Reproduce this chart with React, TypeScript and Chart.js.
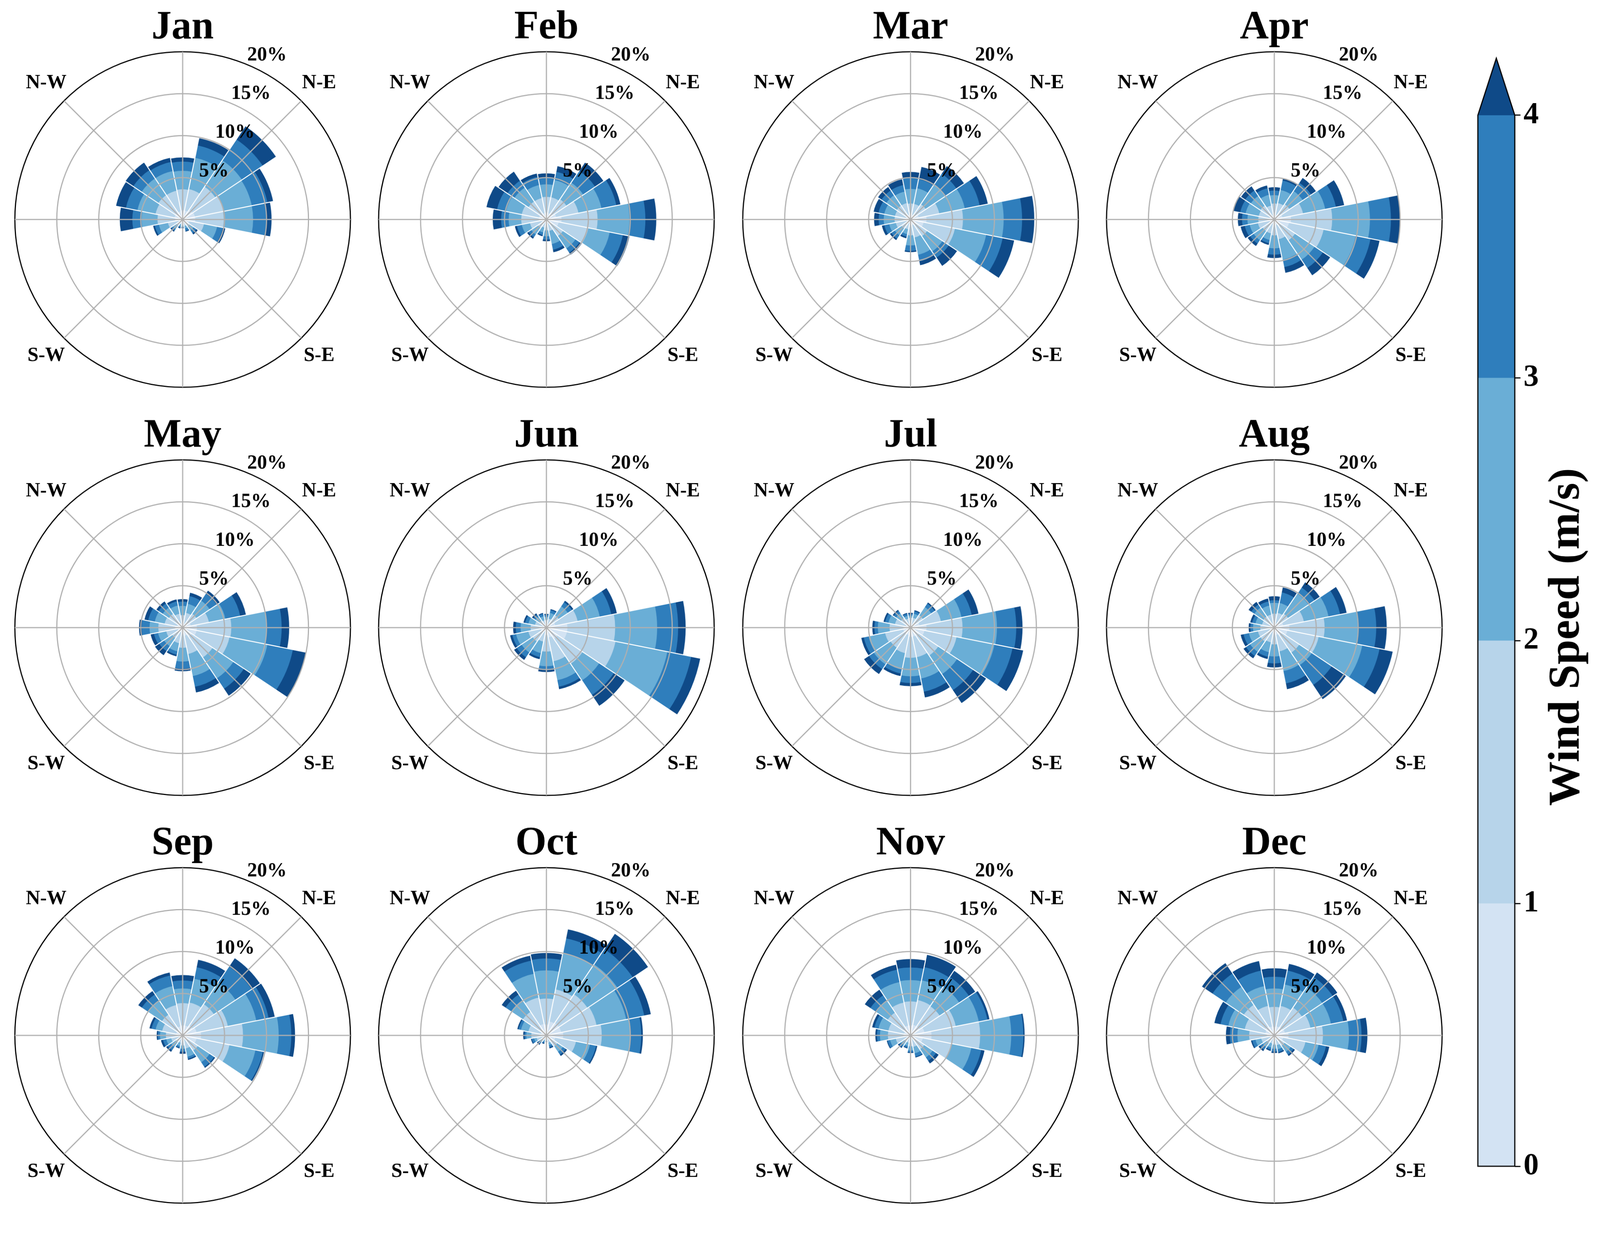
import React, { useEffect, useRef } from 'react';
import { Chart, registerables } from 'chart.js';

Chart.register(...registerables);

// ---------------- data ----------------
const DIRECTIONS = ['N', 'NNE', 'NE', 'ENE', 'E', 'ESE', 'SE', 'SSE', 'S', 'SSW', 'SW', 'WSW', 'W', 'WNW', 'NW', 'NNW'];
const SPEED_BINS = ['0-1', '1-2', '2-3', '3-4', '>4'];
const MONTHS = ['Jan', 'Feb', 'Mar', 'Apr', 'May', 'Jun', 'Jul', 'Aug', 'Sep', 'Oct', 'Nov', 'Dec'];
const R_TICKS = [5, 10, 15, 20];
const DIAG_LABELS = ['', 'N-E', '', 'S-E', '', 'S-W', '', 'N-W'];
const CB_BOUNDS = [0, 1, 2, 3, 4];
const CB_TICKS = [0, 1, 2, 3, 4];
const CB_LABEL = 'Wind Speed (m/s)';

// frequency (%) per direction (rows, N clockwise) and speed bin (columns: 0-1, 1-2, 2-3, 3-4, >4 m/s)
const JAN = [
  [1.1, 2.5, 2.2, 1.1, 0.5], [1.1, 2.6, 3.8, 1.5, 0.9], [1.4, 3.3, 3.8, 3.0, 1.9], [1.5, 3.5, 3.4, 1.9, 0.7],
  [1.5, 3.4, 3.5, 1.6, 0.6], [0.8, 1.8, 1.6, 0.7, 0.3], [0.3, 0.7, 0.6, 0.4, 0.2], [0.3, 0.5, 0.3, 0.3, 0.1],
  [0.2, 0.4, 0.2, 0.15, 0.1], [0.2, 0.4, 0.25, 0.15, 0.1], [0.3, 0.6, 0.5, 0.25, 0.15], [0.5, 1.3, 1.1, 0.5, 0.2],
  [0.9, 2.1, 1.9, 1.1, 1.5], [1.0, 2.3, 2.2, 1.4, 1.2], [1.0, 2.5, 2.4, 1.2, 1.1], [1.0, 2.5, 2.4, 1.1, 0.5],
];
const FEB = [
  [0.8, 1.9, 1.5, 0.8, 0.5], [0.8, 1.9, 2.1, 1.0, 0.7], [0.9, 2.0, 2.4, 1.7, 1.2], [1.2, 2.7, 2.8, 1.8, 0.5],
  [1.8, 4.3, 3.8, 1.9, 1.3], [1.5, 3.6, 2.6, 1.6, 0.8], [0.7, 1.7, 1.8, 0.6, 0.3], [0.4, 1.0, 1.6, 0.7, 0.3],
  [0.4, 0.9, 0.7, 0.4, 0.2], [0.3, 0.7, 0.6, 0.3, 0.15], [0.4, 0.8, 1.0, 0.4, 0.2], [0.6, 1.4, 1.0, 0.6, 0.25],
  [0.9, 2.1, 1.5, 0.9, 1.0], [0.9, 2.1, 1.9, 1.1, 1.3], [0.8, 1.8, 2.0, 1.0, 1.3], [0.8, 1.8, 1.6, 1.0, 0.4],
];
const MAR = [
  [0.6, 1.3, 1.75, 1.35, 0.67], [0.6, 1.3, 1.9, 1.1, 1.5], [0.7, 1.5, 2.8, 1.6, 1.1], [1.0, 2.5, 3.1, 1.8, 1.0],
  [1.9, 4.35, 4.85, 2.2, 1.45], [1.6, 3.8, 3.8, 2.0, 1.4], [0.7, 1.7, 2.2, 0.9, 1.2], [0.7, 1.5, 2.1, 0.8, 0.47],
  [0.6, 1.3, 1.2, 0.65, 0.15], [0.4, 0.8, 0.6, 0.3, 0.2], [0.4, 0.9, 1.0, 0.5, 0.2], [0.5, 1.3, 0.8, 0.6, 0.3],
  [0.6, 1.3, 1.3, 0.6, 0.55], [0.6, 1.3, 1.3, 0.7, 0.6], [0.6, 1.4, 1.5, 0.7, 0.5], [0.6, 1.4, 1.4, 0.8, 0.7],
];
const APR = [
  [0.6, 1.3, 1.0, 0.55, 0.4], [0.6, 1.4, 1.6, 1.15, 0.25], [0.7, 1.5, 1.9, 1.2, 0.7], [1.0, 2.5, 2.7, 1.3, 1.0],
  [2.0, 4.9, 4.5, 2.5, 1.1], [1.8, 4.2, 3.9, 1.8, 1.1], [0.9, 2.1, 2.8, 1.2, 1.05], [0.7, 1.7, 2.5, 0.9, 0.7],
  [0.6, 1.3, 1.55, 0.75, 0.4], [0.5, 1.2, 0.8, 0.4, 0.2], [0.5, 1.2, 1.3, 0.5, 0.35], [0.6, 1.4, 1.0, 0.6, 0.5],
  [0.6, 1.3, 1.3, 0.65, 0.5], [0.6, 1.3, 1.6, 0.65, 0.9], [0.6, 1.4, 1.4, 0.8, 0.6], [0.5, 1.2, 1.3, 0.8, 0.35],
];
const MAY = [
  [0.5, 1.0, 1.1, 0.5, 0.3], [0.5, 1.3, 1.1, 0.95, 0.4], [0.6, 1.4, 1.9, 1.0, 0.45], [1.0, 2.2, 2.0, 1.8, 0.7],
  [1.7, 4.1, 4.2, 1.8, 0.9], [1.7, 4.0, 4.6, 3.1, 1.6], [1.3, 3.0, 3.0, 1.5, 1.0], [1.0, 2.2, 2.7, 1.3, 0.7],
  [0.7, 1.7, 1.65, 0.85, 0.3], [0.6, 1.3, 1.0, 0.4, 0.2], [0.5, 1.0, 1.2, 0.7, 0.6], [0.6, 1.4, 1.0, 0.5, 0.4],
  [0.9, 2.0, 1.05, 0.95, 0.3], [0.7, 1.5, 1.2, 0.8, 0.45], [0.6, 1.4, 0.9, 0.6, 0.3], [0.5, 1.2, 1.0, 0.5, 0.25],
];
const JUN = [
  [0.3, 0.6, 0.4, 0.25, 0.09], [0.3, 0.8, 0.7, 0.35, 0.12], [0.5, 1.3, 1.3, 0.6, 0.2], [1.1, 2.7, 2.7, 1.4, 0.67],
  [2.5, 5.7, 5.0, 2.5, 0.9], [2.5, 5.9, 6.3, 2.9, 1.1], [1.6, 3.6, 2.4, 2.1, 1.55], [1.2, 2.9, 2.3, 0.8, 0.3],
  [0.9, 1.95, 1.75, 0.47, 0.23], [0.5, 1.2, 1.4, 0.5, 0.25], [0.6, 1.4, 1.6, 0.7, 0.38], [0.7, 1.5, 1.5, 0.45, 0.28],
  [0.6, 1.28, 1.2, 0.57, 0.32], [0.4, 1.0, 0.8, 0.4, 0.2], [0.3, 0.7, 0.6, 0.3, 0.2], [0.3, 0.6, 0.5, 0.3, 0.1],
];
const JUL = [
  [0.4, 0.8, 0.25, 0.2, 0.12], [0.4, 0.8, 0.5, 0.3, 0.13], [0.5, 1.3, 1.2, 0.5, 0.15], [1.1, 2.6, 2.5, 1.25, 0.82],
  [1.9, 4.3, 4.1, 2.3, 0.75], [1.7, 3.9, 4.6, 2.2, 1.3], [1.2, 2.8, 2.7, 2.3, 1.86], [1.1, 2.5, 2.6, 1.6, 0.7],
  [1.1, 2.5, 2.2, 0.8, 0.38], [0.9, 2.2, 2.0, 0.5, 0.3], [0.9, 2.0, 2.4, 0.7, 0.7], [0.9, 2.2, 2.0, 0.6, 0.3],
  [0.8, 1.7, 1.4, 0.4, 0.26], [0.6, 1.3, 0.8, 0.4, 0.2], [0.4, 1.0, 0.7, 0.35, 0.15], [0.3, 0.8, 0.35, 0.25, 0.1],
];
const AUG = [
  [0.5, 1.17, 1.29, 0.31, 0.48], [0.5, 1.3, 1.2, 1.3, 0.6], [0.6, 1.4, 2.9, 0.9, 0.75], [1.1, 2.5, 3.0, 1.4, 0.8],
  [1.8, 4.2, 3.95, 2.2, 1.25], [1.6, 3.8, 5.3, 2.1, 1.6], [1.1, 2.5, 1.8, 2.85, 2.05], [0.9, 2.0, 2.4, 1.5, 0.7],
  [0.6, 1.4, 1.44, 0.83, 0.48], [0.5, 1.3, 1.2, 0.55, 0.28], [0.6, 1.4, 1.5, 0.6, 0.35], [0.6, 1.4, 1.1, 0.65, 0.35],
  [0.5, 1.17, 0.87, 0.31, 0.21], [0.45, 1.05, 0.8, 0.4, 0.24], [0.5, 1.1, 1.3, 0.45, 0.38], [0.5, 1.1, 1.1, 0.5, 0.35],
];
const SEP = [
  [1.2, 2.65, 1.75, 0.95, 0.65], [1.2, 2.8, 2.9, 1.4, 0.9], [1.4, 3.1, 3.1, 2.3, 1.2], [1.7, 3.8, 3.45, 1.5, 0.75],
  [2.2, 5.0, 4.25, 1.5, 0.45], [1.7, 4.0, 3.15, 0.9, 0.15], [0.7, 1.5, 1.7, 0.65, 0.15], [0.5, 1.1, 1.0, 0.25, 0.15],
  [0.4, 0.8, 0.4, 0.35, 0.25], [0.3, 0.6, 0.4, 0.2, 0.1], [0.3, 0.7, 0.7, 0.5, 0.2], [0.4, 1.0, 0.6, 0.4, 0.25],
  [0.6, 1.4, 0.7, 0.25, 0.15], [0.8, 1.7, 0.8, 0.5, 0.25], [0.9, 2.1, 2.0, 0.9, 0.5], [1.1, 2.6, 2.3, 1.3, 0.37],
];
const OCT = [
  [1.3, 3.1, 3.35, 1.42, 0.66], [1.7, 3.9, 4.4, 1.8, 1.1], [1.8, 4.1, 4.3, 2.2, 2.2], [1.8, 4.3, 3.6, 2.2, 0.8],
  [2.0, 4.6, 3.45, 1.25, 0.2], [1.1, 2.5, 1.7, 0.75, 0.15], [0.5, 1.1, 0.8, 0.4, 0.2], [0.3, 0.6, 0.3, 0.25, 0.15],
  [0.15, 0.25, 0.2, 0.12, 0.08], [0.2, 0.4, 0.2, 0.15, 0.1], [0.2, 0.5, 0.3, 0.25, 0.15], [0.4, 0.8, 0.3, 0.3, 0.1],
  [0.5, 1.3, 0.6, 0.2, 0.17], [0.7, 1.5, 0.9, 0.3, 0.15], [1.0, 2.4, 1.7, 0.8, 0.55], [1.4, 3.2, 2.9, 1.6, 0.6],
];
const NOV = [
  [1.2, 2.86, 2.54, 1.5, 1.0], [1.3, 3.0, 2.4, 1.6, 1.5], [1.3, 2.9, 2.8, 1.4, 0.9], [1.7, 3.8, 2.8, 1.05, 0.25],
  [2.5, 5.8, 3.7, 1.45, 0.15], [1.5, 3.5, 2.4, 1.2, 0.4], [0.6, 1.4, 1.2, 0.5, 0.37], [0.4, 1.0, 0.8, 0.4, 0.1],
  [0.4, 0.9, 0.5, 0.2, 0.1], [0.3, 0.6, 0.4, 0.2, 0.1], [0.3, 0.6, 0.5, 0.3, 0.15], [0.5, 1.3, 0.7, 0.3, 0.1],
  [0.8, 1.9, 0.95, 0.35, 0.2], [0.8, 1.9, 1.2, 0.5, 0.28], [1.0, 2.3, 1.7, 0.8, 0.8], [1.2, 2.8, 2.5, 1.5, 0.6],
];
const DEC = [
  [1.0, 2.4, 2.2, 1.4, 1.0], [1.1, 2.5, 2.6, 1.7, 0.8], [1.2, 2.8, 2.9, 1.5, 0.67], [1.3, 3.1, 2.5, 1.5, 0.45],
  [1.7, 4.1, 3.1, 1.5, 0.7], [1.1, 2.7, 1.6, 0.9, 0.4], [0.5, 1.0, 0.9, 0.4, 0.2], [0.4, 0.8, 0.5, 0.35, 0.15],
  [0.3, 0.8, 0.5, 0.35, 0.15], [0.3, 0.7, 0.5, 0.25, 0.15], [0.3, 0.8, 0.6, 0.4, 0.2], [0.5, 1.1, 0.7, 0.4, 0.15],
  [0.9, 2.1, 1.4, 0.9, 0.47], [1.1, 2.5, 2.0, 0.95, 0.75], [1.3, 3.1, 2.6, 1.9, 1.5], [1.1, 2.5, 2.4, 1.9, 1.15],
];
const MONTH_DATA = [JAN, FEB, MAR, APR, MAY, JUN, JUL, AUG, SEP, OCT, NOV, DEC];

// ---------------- style / layout ----------------
const PAGE_W = 4205;
const PAGE_H = 3201;
const BIN_COLORS = ['#d3e3f3', '#b7d4ea', '#6aaed6', '#2f7ebc', '#0f4a88'];
const FONT = '"Times New Roman", "Liberation Serif", serif';
const COL_X = [480, 1436, 2393, 3349];
const ROW_Y = [577, 1650, 2722];
const CANVAS_W = 956;
const CANVAS_H = 1020;
const HALF_W = 478;
const TOP_OFF = 560;
const LABEL_VALUE = 23; // radial position of direction labels, in %
const TICK_ANGLE = 22.5; // compass angle of radial tick labels
const CB_EXTEND = 0.217;

const roseLabels = {
  id: 'roseLabels',
  afterDraw(chart: any) {
    const g = chart.scales.g;
    const ctx = chart.ctx;
    ctx.save();
    ctx.fillStyle = '#000';
    ctx.font = `bold 52px ${FONT}`;
    ctx.textAlign = 'center';
    ctx.textBaseline = 'middle';
    DIAG_LABELS.forEach((lab, i) => {
      if (!lab) return;
      const p = g.getPointPositionForValue(i, LABEL_VALUE);
      ctx.fillText(lab, p.x, p.y);
    });
    ctx.textAlign = 'left';
    ctx.textBaseline = 'alphabetic';
    const a = (TICK_ANGLE * Math.PI) / 180;
    R_TICKS.forEach((v) => {
      const d = g.getDistanceFromCenterForValue(v);
      ctx.fillText(`${v}%`, g.xCenter + d * Math.sin(a) + 1, g.yCenter - d * Math.cos(a) - 11);
    });
    ctx.restore();
  },
};

function Rose({ title, rows, left, top }: { title: string; rows: number[][]; left: number; top: number }) {
  const ref = useRef<HTMLCanvasElement>(null);
  useEffect(() => {
    const cumulative = SPEED_BINS.map((_, k) =>
      rows.map((r) => r.slice(0, k + 1).reduce((s, v) => s + v, 0))
    );
    const chart = new Chart(ref.current as HTMLCanvasElement, {
      type: 'polarArea',
      data: {
        labels: DIRECTIONS,
        datasets: cumulative.map((d, k) => ({
          label: SPEED_BINS[k],
          data: d,
          backgroundColor: BIN_COLORS[k],
          borderWidth: 0,
          rAxisID: 'r',
        })),
      },
      options: {
        responsive: false,
        animation: false,
        devicePixelRatio: 1,
        layout: { padding: { left: 37, right: 37, top: 0, bottom: 19 } },
        plugins: {
          legend: { display: false },
          tooltip: { enabled: false },
          title: {
            display: true,
            text: title,
            color: '#000',
            font: { family: FONT, size: 105, weight: 'bold', lineHeight: 1 },
            padding: { top: 4.5, bottom: 9.5 },
          },
        },
        scales: {
          r: {
            type: 'radialLinear',
            min: 0,
            max: 20,
            startAngle: -11.25,
            labels: DIRECTIONS,
            ticks: { display: false, stepSize: 5 },
            pointLabels: { display: false },
            grid: { display: false, z: 1 },
            angleLines: { display: true, color: '#ffffff', lineWidth: 2.5 },
          },
          g: {
            type: 'radialLinear',
            axis: 'r',
            min: 0,
            max: 20,
            startAngle: 0,
            labels: DIAG_LABELS,
            ticks: { display: false, stepSize: 5 },
            pointLabels: { display: false },
            grid: {
              display: true,
              circular: true,
              z: 2,
              lineWidth: 3,
              color: (c: any) => (c.tick && c.tick.value === 20 ? '#000000' : '#b0b0b0'),
            },
            angleLines: { display: true, color: '#b0b0b0', lineWidth: 3 },
          },
        } as any,
      } as any,
      plugins: [roseLabels],
    });
    return () => chart.destroy();
  }, []);
  return (
    <canvas
      ref={ref}
      width={CANVAS_W}
      height={CANVAS_H}
      style={{ position: 'absolute', left, top, width: CANVAS_W, height: CANVAS_H }}
    />
  );
}

const colorbarDecor = {
  id: 'colorbarDecor',
  afterDatasetsDraw(chart: any) {
    const { ctx, chartArea } = chart;
    const y = chart.scales.y;
    const { left, right, bottom } = chartArea;
    const mid = (left + right) / 2;
    const yTop = y.getPixelForValue(CB_BOUNDS[CB_BOUNDS.length - 1]);
    const yApex = y.getPixelForValue(CB_BOUNDS[CB_BOUNDS.length - 1] + CB_EXTEND);
    ctx.save();
    ctx.fillStyle = BIN_COLORS[4];
    ctx.beginPath();
    ctx.moveTo(left, yTop);
    ctx.lineTo(mid, yApex);
    ctx.lineTo(right, yTop);
    ctx.closePath();
    ctx.fill();
    ctx.strokeStyle = '#000';
    ctx.lineWidth = 3;
    ctx.lineJoin = 'miter';
    ctx.beginPath();
    ctx.moveTo(left, bottom);
    ctx.lineTo(left, yTop);
    ctx.lineTo(mid, yApex);
    ctx.lineTo(right, yTop);
    ctx.lineTo(right, bottom);
    ctx.closePath();
    ctx.stroke();
    ctx.restore();
  },
  afterDraw(chart: any) {
    const { ctx, chartArea } = chart;
    const y = chart.scales.y;
    ctx.save();
    ctx.translate(chartArea.right + 168, y.getPixelForValue(2) - 10);
    ctx.rotate(-Math.PI / 2);
    ctx.fillStyle = '#000';
    ctx.font = `bold 117px ${FONT}`;
    ctx.textAlign = 'center';
    ctx.textBaseline = 'alphabetic';
    ctx.fillText(CB_LABEL, 0, 0);
    ctx.restore();
  },
};

function ColorBar({ left, top }: { left: number; top: number }) {
  const ref = useRef<HTMLCanvasElement>(null);
  const W = 355;
  const H = 3033;
  useEffect(() => {
    const chart = new Chart(ref.current as HTMLCanvasElement, {
      type: 'bar',
      data: {
        labels: [CB_LABEL],
        datasets: CB_BOUNDS.slice(0, -1).map((lo, i) => ({
          label: SPEED_BINS[i],
          data: [[lo, CB_BOUNDS[i + 1]]],
          backgroundColor: BIN_COLORS[i],
          borderWidth: 0,
          grouped: false,
          barPercentage: 1,
          categoryPercentage: 1,
        })),
      } as any,
      options: {
        responsive: false,
        animation: false,
        devicePixelRatio: 1,
        layout: { padding: { left: 34, right: 104, top: 60, bottom: 60 } },
        plugins: { legend: { display: false }, tooltip: { enabled: false } },
        scales: {
          x: { display: false },
          y: {
            position: 'right',
            min: CB_BOUNDS[0],
            max: CB_BOUNDS[CB_BOUNDS.length - 1] + CB_EXTEND,
            afterBuildTicks: (s: any) => {
              s.ticks = CB_TICKS.map((v) => ({ value: v }));
            },
            afterFit: (s: any) => {
              s.width = 120;
            },
            grid: { drawOnChartArea: false, drawTicks: true, tickLength: 15, color: '#000', lineWidth: 3 },
            border: { display: false },
            ticks: { color: '#000', padding: 8, font: { family: FONT, size: 80, weight: 'bold' } },
          },
        },
      } as any,
      plugins: [colorbarDecor],
    });
    return () => chart.destroy();
  }, []);
  return <canvas ref={ref} width={W} height={H} style={{ position: 'absolute', left, top, width: W, height: H }} />;
}

export default function App() {
  const vw = typeof window !== 'undefined' ? window.innerWidth : PAGE_W;
  const vh = typeof window !== 'undefined' ? window.innerHeight : PAGE_H;
  const s = Math.min(vw / PAGE_W, vh / PAGE_H) || 1;
  return (
    <div
      style={{
        position: 'absolute',
        left: 0,
        top: 0,
        width: PAGE_W * s,
        height: PAGE_H * s,
        background: '#ffffff',
        overflow: 'hidden',
      }}
    >
      <div
        style={{
          position: 'absolute',
          left: 0,
          top: 0,
          width: PAGE_W,
          height: PAGE_H,
          transform: `scale(${s})`,
          transformOrigin: '0 0',
        }}
      >
        {MONTHS.map((m, i) => (
          <Rose
            key={m}
            title={m}
            rows={MONTH_DATA[i]}
            left={COL_X[i % 4] - HALF_W}
            top={ROW_Y[Math.floor(i / 4)] - TOP_OFF}
          />
        ))}
        <ColorBar left={3850} top={93} />
      </div>
    </div>
  );
}
